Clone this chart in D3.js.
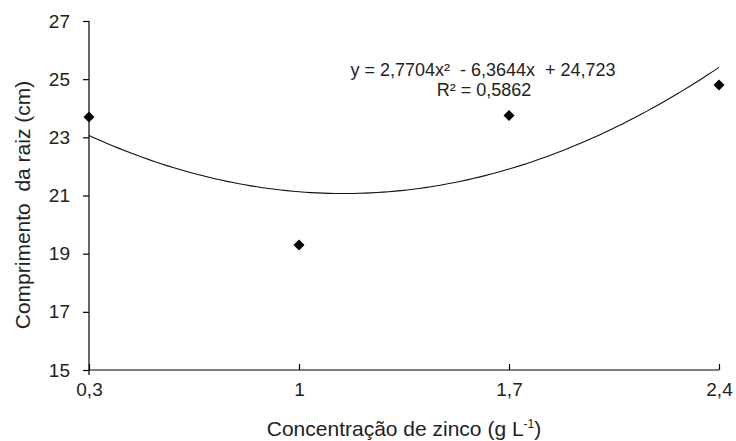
<!DOCTYPE html>
<head>
<meta charset="utf-8">
<style>
body { margin: 0; background: #fff; }
svg { display: block; }
.axis text { font: 19px "Liberation Sans", Arial, sans-serif; fill: #222; }
.axis path, .axis line { stroke: #000; stroke-width: 1.2px; }
.title { font: 21px "Liberation Sans", Arial, sans-serif; fill: #222; }
.eq { font: 18px "Liberation Sans", Arial, sans-serif; fill: #222; white-space: pre; }
</style>
</head>
<body>
<svg width="736" height="441"></svg>
<script src="https://d3js.org/d3.v7.min.js"></script>
<script>
// zinc concentration (g/L) vs root length (cm)
var concentracao = [0.3, 1, 1.7, 2.4];
var comprimento = [23.7, 19.3, 23.75, 24.8];
var xTicks = [0.3, 1, 1.7, 2.4];
var yTicks = [15, 17, 19, 21, 23, 25, 27];
// trendline coefficients printed on the chart
var coef = [2.7704, -6.3644, 24.723];
var r2 = 0.5862;

var svg = d3.select("svg"),
    margin = {top: 21, right: 17, bottom: 71, left: 89},
    width = +svg.attr("width") - margin.left - margin.right,
    height = +svg.attr("height") - margin.top - margin.bottom,
    g = svg.append("g").attr("transform", "translate(" + margin.left + "," + margin.top + ")");

var x = d3.scaleLinear().domain([0.3, 2.4]).range([0, width]);
var y = d3.scaleLinear().domain([15, 27]).range([height, 0]);

var fmt = function(d) { return String(d).replace(".", ","); };

g.append("g")
    .attr("class", "axis")
    .attr("transform", "translate(0," + height + ")")
    .call(d3.axisBottom(x).tickValues(xTicks).tickSizeInner(-6).tickSizeOuter(0).tickPadding(13).tickFormat(fmt))
    .call(function(a) { a.select(".domain").attr("d", "M0,0H" + width); });

g.append("g")
    .attr("class", "axis")
    .call(d3.axisLeft(y).tickValues(yTicks).tickSizeInner(6).tickSizeOuter(0).tickPadding(13).tickFormat(fmt))
    .call(function(a) { a.select(".domain").attr("d", "M0,0V" + (height + 5)); });

// trendline
var curve = d3.range(0.3, 2.4001, 0.02).map(function(v) {
  return [v, coef[0] * v * v + coef[1] * v + coef[2]];
});
g.append("path")
    .datum(curve)
    .attr("fill", "none")
    .attr("stroke", "#111")
    .attr("stroke-width", 1.1)
    .attr("d", d3.line().x(function(d) { return x(d[0]); }).y(function(d) { return y(d[1]); }));

var diamond = { draw: function(ctx, size) {
  var r = Math.sqrt(size / 2);
  ctx.moveTo(0, -r); ctx.lineTo(r, 0); ctx.lineTo(0, r); ctx.lineTo(-r, 0); ctx.closePath();
} };

g.selectAll(".pt")
    .data(concentracao)
    .enter().append("path")
    .attr("class", "pt")
    .attr("d", d3.symbol().type(diamond).size(60))
    .attr("fill", "#000")
    .attr("transform", function(d, i) { return "translate(" + x(d) + "," + y(comprimento[i]) + ")"; });

// equation
g.append("text").attr("class", "eq").attr("x", 483 - margin.left).attr("y", 76 - margin.top).attr("text-anchor", "middle")
    .text("y = " + fmt(coef[0]) + "x\u00b2  - " + fmt(-coef[1]) + "x  + " + fmt(coef[2]));
g.append("text").attr("class", "eq").attr("x", 484 - margin.left).attr("y", 96 - margin.top).attr("text-anchor", "middle")
    .text("R\u00b2 = " + fmt(r2));

// axis titles
var xt = svg.append("text").attr("class", "title").attr("text-anchor", "middle")
    .attr("x", margin.left + width / 2).attr("y", 436);
xt.append("tspan").text("Concentração de zinco (g L");
xt.append("tspan").attr("dy", -8).attr("font-size", "12px").text("-1");
xt.append("tspan").attr("dy", 8).text(")");

svg.append("text").attr("class", "title").attr("text-anchor", "middle")
    .attr("transform", "translate(30,205) rotate(-90)")
    .style("white-space", "pre")
    .text("Comprimento  da raiz (cm)");
</script>
</body>
